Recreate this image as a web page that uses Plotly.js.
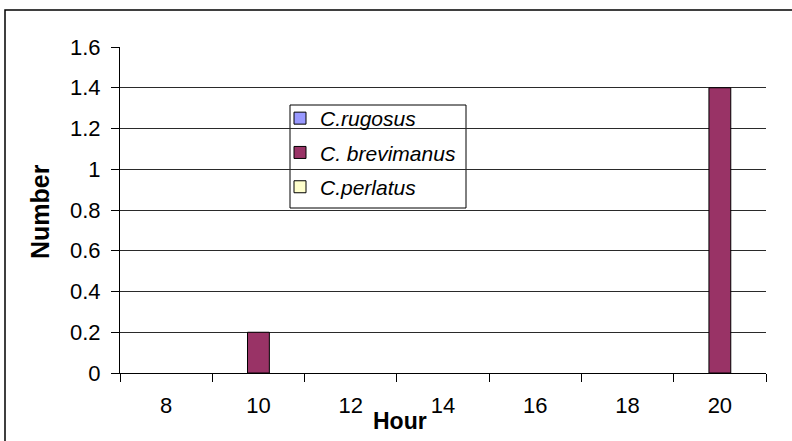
<!DOCTYPE html>
<html>
<head>
<meta charset="utf-8">
<script src="https://cdn.plot.ly/plotly-3.0.1.min.js"></script>
<style>
  html, body { margin: 0; padding: 0; background: #fff; }
  #chart { width: 792px; height: 441px; }
</style>
</head>
<body>
<div id="chart"></div>
<script>
// Hour of observation (category axis)
const hours = ['8', '10', '12', '14', '16', '18', '20'];

// Number of crabs seen per hour, by species
const rugosus    = [0, 0, 0, 0, 0, 0, 0];
const brevimanus = [0, 0.2, 0, 0, 0, 0, 1.4];
const perlatus   = [0, 0, 0, 0, 0, 0, 0];

const seriesNames  = ['<i>C.rugosus</i>', '<i>C. brevimanus</i>', '<i>C.perlatus</i>'];
const seriesColors = ['#9999FF', '#993366', '#FFFFCC'];
const seriesValues = [rugosus, brevimanus, perlatus];

// Bars: outlined only where there is something to outline,
// so empty bars leave no stroke along the baseline.
const barTraces = seriesValues.map((vals, i) => ({
  type: 'bar',
  x: hours,
  y: vals,
  name: seriesNames[i],
  offsetgroup: 's' + i,
  showlegend: false,
  marker: {
    color: seriesColors[i],
    line: { color: '#000', width: vals.map(v => (v > 0 ? 1 : 0)) }
  },
  hoverinfo: 'x+y'
}));

// Legend entries with a uniform outlined swatch (they draw no bars)
const legendTraces = seriesNames.map((name, i) => ({
  type: 'bar',
  x: hours,
  y: hours.map(() => null),
  name: name,
  offsetgroup: 's' + i,
  legendgroup: 'g' + i,
  showlegend: true,
  hoverinfo: 'skip',
  marker: { color: seriesColors[i], line: { color: '#000', width: 1 } }
}));

const font = { family: 'Liberation Sans, Arial, sans-serif', color: '#000' };

const L = 120, R = 26, T = 47, B = 68;
const W = 792 - L - R, H = 441 - T - B;
const px = v => (v - L) / W;        // pixel x -> paper x
const py = v => (441 - B - v) / H;  // pixel y -> paper y

const layout = {
  width: 792,
  height: 441,
  margin: { l: L, r: R, t: T, b: B, pad: 0 },
  paper_bgcolor: '#fff',
  plot_bgcolor: '#fff',
  font: font,
  showlegend: true,
  barmode: 'group',
  bargap: 0.29,
  bargroupgap: 0,
  xaxis: {
    type: 'category',
    categoryorder: 'array',
    categoryarray: hours,
    showline: true,
    linecolor: '#000',
    linewidth: 1,
    ticks: 'outside',
    tickson: 'boundaries',
    ticklen: 8,
    tickcolor: '#000',
    showgrid: false,
    zeroline: false,
    tickfont: { family: font.family, size: 22, color: '#000' },
    ticklabelstandoff: 13,
    automargin: false
  },
  yaxis: {
    range: [0, 1.6],
    dtick: 0.2,
    showline: true,
    linecolor: '#000',
    linewidth: 1,
    ticks: 'outside',
    ticklen: 8,
    tickcolor: '#000',
    showgrid: true,
    gridcolor: '#2a2a2a',
    gridwidth: 1,
    zeroline: false,
    tickfont: { family: font.family, size: 22, color: '#000' },
    ticklabelstandoff: 6,
    automargin: false
  },
  legend: {
    x: px(280),
    y: py(98),
    xanchor: 'left',
    yanchor: 'top',
    bgcolor: 'rgba(0,0,0,0)',
    borderwidth: 0,
    traceorder: 'grouped',
    tracegroupgap: 4,
    font: { family: font.family, size: 21, color: '#000' }
  },
  annotations: [
    {
      text: '<b>Hour</b>', xref: 'paper', yref: 'paper',
      x: px(400), y: py(421), xanchor: 'center', yanchor: 'middle',
      showarrow: false, font: { family: font.family, size: 23, color: '#000' }
    },
    {
      text: '<b>Number</b>', xref: 'paper', yref: 'paper', textangle: -90,
      x: px(40), y: py(212), xanchor: 'center', yanchor: 'middle',
      showarrow: false, font: { family: font.family, size: 25, color: '#000' }
    }
  ],
  shapes: [
    // outer chart frame
    {
      type: 'rect', xref: 'paper', yref: 'paper', layer: 'above',
      x0: px(5), x1: px(820), y0: py(470), y1: py(10),
      line: { color: '#000', width: 1.5 }, fillcolor: 'rgba(0,0,0,0)'
    },
    // legend box
    {
      type: 'rect', xref: 'paper', yref: 'paper', layer: 'between',
      x0: px(290), x1: px(466), y0: py(208), y1: py(105),
      line: { color: '#000', width: 1 }, fillcolor: '#fff'
    }
  ]
};

Plotly.newPlot('chart', barTraces.concat(legendTraces), layout,
  { displayModeBar: false, staticPlot: true });
</script>
</body>
</html>
